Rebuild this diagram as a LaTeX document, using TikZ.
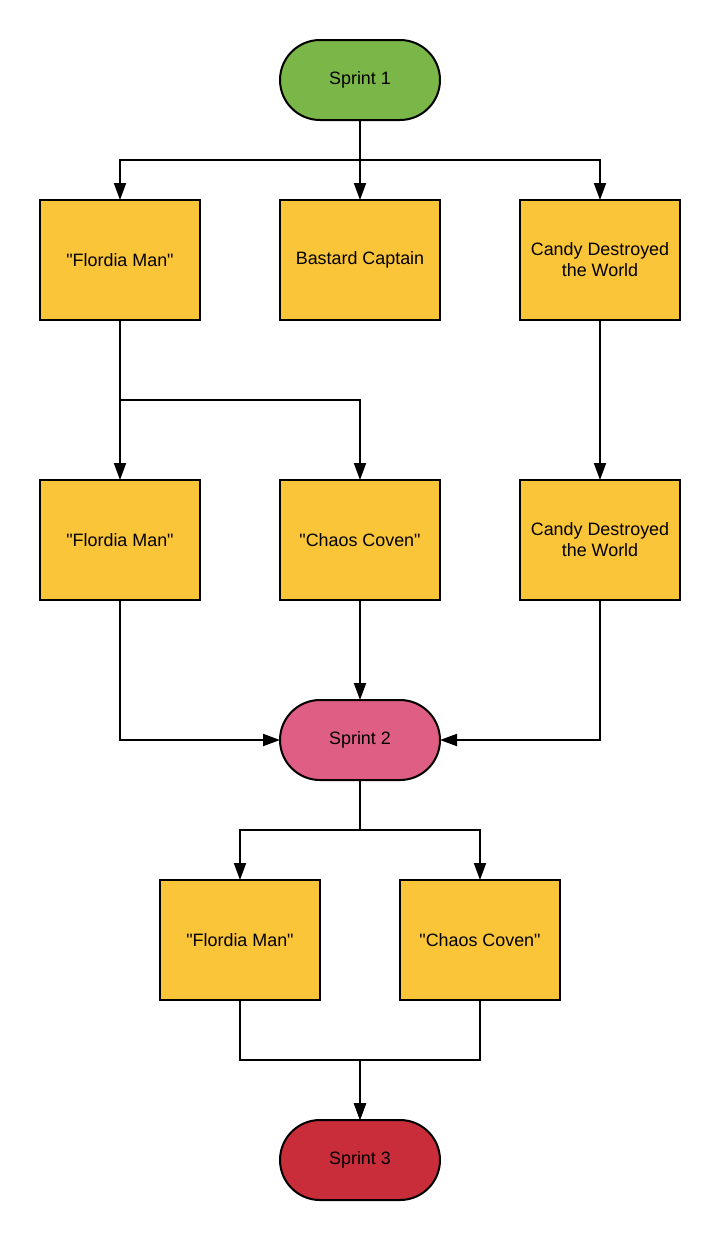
\documentclass[tikz,border=0pt]{standalone}
\usepackage{fontspec}
\setmainfont{Liberation Sans}
\usetikzlibrary{arrows.meta}
\definecolor{sgreen}{HTML}{7AB648}
\definecolor{syellow}{HTML}{FBC53A}
\definecolor{spink}{HTML}{DF5E84}
\definecolor{sred}{HTML}{C92D39}
\newcommand{\q}{\textquotedbl}
\tikzset{
  base/.style={draw=black, line width=2pt, inner sep=0pt, outer sep=0pt, align=center,
    font=\fontsize{17.9}{21}\selectfont},
  boxnode/.style={base, fill=syellow, minimum width=160pt, minimum height=120pt},
  term/.style={base, minimum width=160pt, minimum height=80pt, rounded corners=40pt},
  conn/.style={line width=2pt, -{Triangle[length=17pt,width=12pt]}},
}
\begin{document}
\begin{tikzpicture}[x=1pt,y=-1pt]
\useasboundingbox (0,0) rectangle (720,1240);
\node[term, fill=sgreen] (s1) at (360,80) {Sprint 1};
\node[boxnode] (a1) at (120,260) {\q Flordia Man\q};
\node[boxnode] (a2) at (360,260) {Bastard Captain};
\node[boxnode] (a3) at (600,260) {Candy Destroyed\\the World};
\node[boxnode] (b1) at (120,540) {\q Flordia Man\q};
\node[boxnode] (b2) at (360,540) {\q Chaos Coven\q};
\node[boxnode] (b3) at (600,540) {Candy Destroyed\\the World};
\node[term, fill=spink] (s2) at (360,740) {Sprint 2};
\node[boxnode] (c1) at (240,940) {\q Flordia Man\q};
\node[boxnode] (c2) at (480,940) {\q Chaos Coven\q};
\node[term, fill=sred] (s3) at (360,1160) {Sprint 3};

\draw[conn] (s1.south) -- ++(0,40) -| (a1.north);
\draw[conn] (s1.south) -- (a2.north);
\draw[conn] (s1.south) -- ++(0,40) -| (a3.north);
\draw[conn] (a1.south) -- (b1.north);
\draw[conn] (a1.south) -- ++(0,80) -| (b2.north);
\draw[conn] (a3.south) -- (b3.north);
\draw[conn] (b1.south) |- (s2.west);
\draw[conn] (b2.south) -- (s2.north);
\draw[conn] (b3.south) |- (s2.east);
\draw[conn] (s2.south) -- ++(0,50) -| (c1.north);
\draw[conn] (s2.south) -- ++(0,50) -| (c2.north);
\draw[conn] (c1.south) -- ++(0,60) -| (s3.north);
\draw[conn] (c2.south) -- ++(0,60) -| (s3.north);
\end{tikzpicture}
\end{document}
